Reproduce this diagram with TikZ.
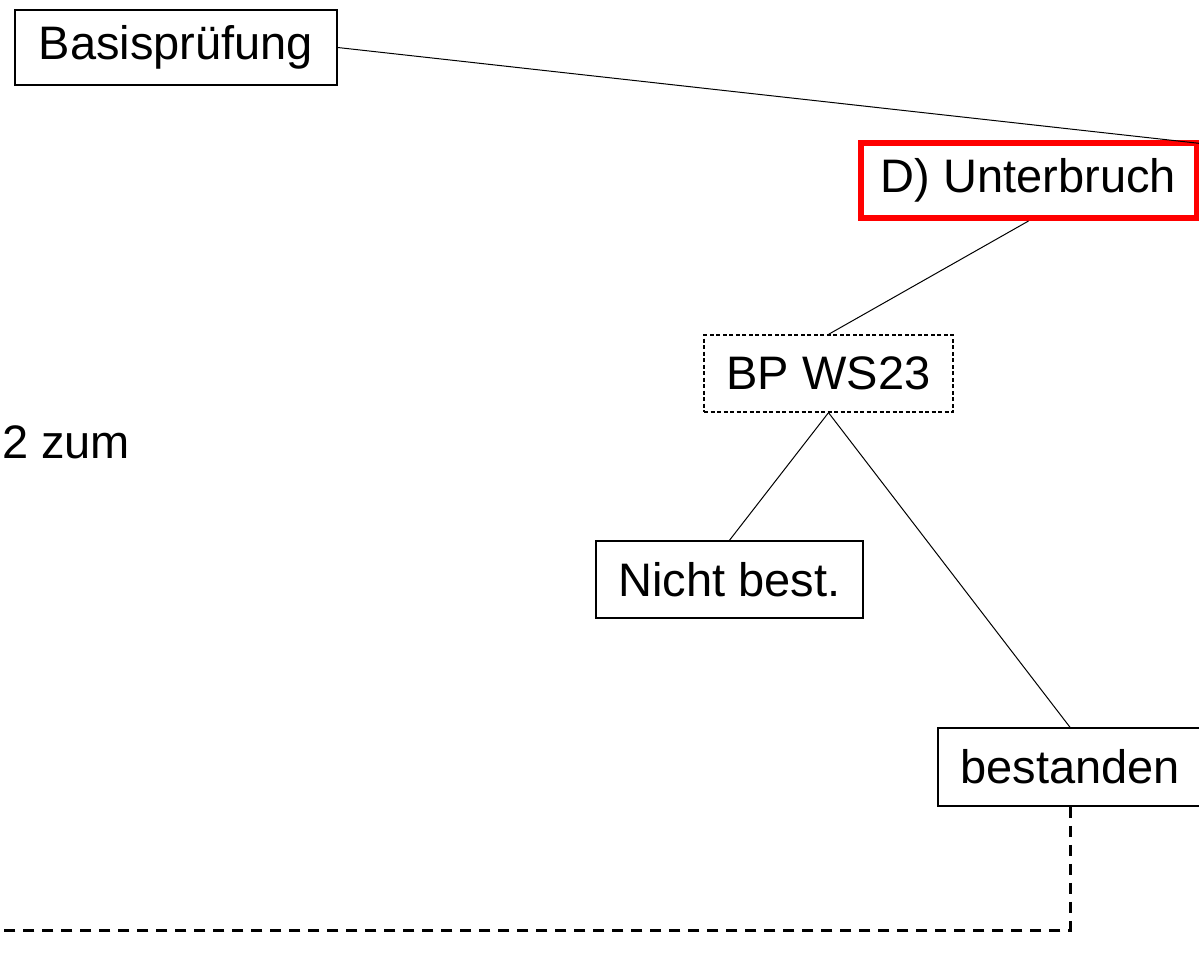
\documentclass[tikz,border=0pt]{standalone}
\usepackage{fontspec}
\setmainfont{Liberation Sans}
\usetikzlibrary{positioning}
\tikzset{
  kasten/.style={draw, line width=1.5pt, fill=white, inner sep=0pt, font=\fontsize{47}{56}\selectfont},
  rotkasten/.style={kasten, draw=red, line width=6pt},
  strichkasten/.style={kasten, line width=1.3pt, dash pattern=on 4pt off 2.5pt},
  verbindung/.style={line width=1pt},
  rueckweg/.style={line width=3pt, dash pattern=on 11pt off 8pt}
}
\begin{document}
\begin{tikzpicture}[x=1pt, y=-1pt]
        \clip (0,0) rectangle (1199,970);
        \fill[white] (0,0) rectangle (1199,970);

        % Nodes
        \node[kasten, minimum width=322pt, minimum height=75pt] (basis) at (176, 47.5) {Basisprüfung};
        \node[rotkasten, minimum width=336pt, minimum height=75pt] (unterbruch) at (1028.5, 180.5) {D) Unterbruch};
        \node[strichkasten, minimum width=249pt, minimum height=77pt] (bpws) at (828.5, 373.5) {BP WS23};
        \node[kasten, minimum width=267pt, minimum height=77pt] (nicht) at (729.5, 579.5) {Nicht best.};
        \node[kasten, minimum width=264pt, minimum height=78pt] (bestanden) at (1070, 767) {bestanden};
        \node[anchor=base west, inner sep=0pt, font=\fontsize{47}{56}\selectfont] (zum) at (2, 458) {2 zum};

        \coordinate (rechts) at (1250, 149);
        \coordinate (links) at (-20, 930);

        % Edges
        \draw[verbindung] (basis.east) -- (rechts);
        \draw[verbindung] (unterbruch.south) -- (bpws.north);
        \draw[verbindung] (bpws.south) -- (nicht.north);
        \draw[verbindung] (bpws.south) -- (bestanden.north);
        \draw[rueckweg] (bestanden.south) |- (links);
    \end{tikzpicture}
\end{document}
